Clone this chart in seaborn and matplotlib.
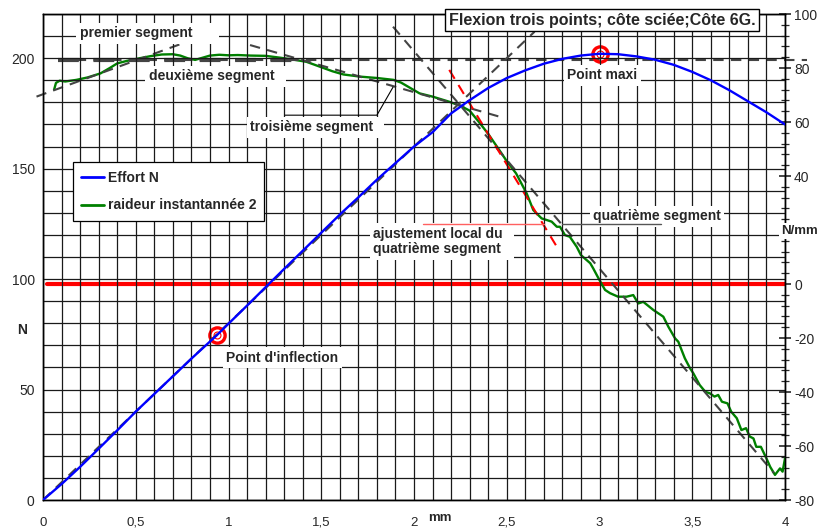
import numpy as np
import pandas as pd
import matplotlib
matplotlib.use("Agg")
import matplotlib.pyplot as plt
import seaborn as sns
from matplotlib.ticker import MultipleLocator, FixedLocator

# Effort N (left axis)
effort_x = [0, 0.1, 0.2, 0.3, 0.4, 0.5, 0.6, 0.7, 0.8, 0.936, 1.0, 1.1, 1.22, 1.3, 1.4, 1.5,
            1.61, 1.7, 1.8, 1.9, 2.0, 2.1, 2.2, 2.3, 2.4, 2.5, 2.6, 2.7, 2.8, 2.9, 3.0,
            3.1, 3.2, 3.3, 3.4, 3.5, 3.6, 3.7, 3.8, 3.9, 4.0]
effort_n = [0, 7.2, 15.0, 23.2, 31.5, 40.0, 48.0, 56.0, 64.0, 74.5, 79.8, 88.0, 98.0, 104.6, 112.8, 121.0,
            130.0, 137.0, 145.0, 152.5, 160.0, 166.5, 175.0, 181.0, 186.5, 191.0, 194.5, 197.5, 199.7, 201.2, 202.0,
            201.8, 200.8, 199.3, 197.0, 193.8, 190.0, 185.5, 180.5, 175.5, 170.0]

# raideur instantannée 2 (right axis, N/mm)
raid_x = [0.06, 0.07, 0.09, 0.12, 0.18, 0.24, 0.31, 0.36, 0.40, 0.45, 0.52, 0.58, 0.64, 0.70, 0.74,
          0.78, 0.82, 0.86, 0.90, 0.95, 1.00, 1.05, 1.12, 1.20, 1.28, 1.34, 1.42, 1.48, 1.56, 1.62,
          1.71, 1.80, 1.89, 1.93, 1.97, 2.03, 2.10, 2.19, 2.25, 2.30, 2.35, 2.40, 2.46, 2.50, 2.55,
          2.607, 2.643, 2.66, 2.688, 2.715, 2.742, 2.77, 2.787, 2.814, 2.84, 2.877, 2.90, 2.95, 2.966,
          2.99, 3.01, 3.03, 3.057, 3.10, 3.146, 3.182, 3.209, 3.236, 3.29, 3.344, 3.371, 3.407, 3.425,
          3.46, 3.488, 3.506, 3.54, 3.57, 3.595, 3.62, 3.64, 3.66, 3.69, 3.71, 3.74, 3.765, 3.79,
          3.81, 3.83, 3.845, 3.87, 3.90, 3.92, 3.946, 3.973, 3.987, 4.0]
raid_v = [72.0, 74.5, 75.3, 75.0, 75.6, 76.5, 78.0, 80.0, 81.7, 82.6, 83.6, 84.4, 85.0, 85.1, 84.6,
          83.6, 83.0, 83.8, 84.6, 84.9, 84.7, 84.8, 84.6, 84.5, 83.8, 83.2, 82.3, 80.8, 78.8, 77.6,
          76.8, 76.3, 75.6, 74.6, 73.0, 70.6, 69.4, 67.5, 66.0, 64.2, 60.0, 55.6, 49.6, 45.5, 41.0,
          33.6, 27.4, 26.2, 24.3, 23.7, 23.1, 21.2, 21.2, 18.1, 17.5, 13.8, 10.7, 7.7, 5.8,
          2.7, 0.2, -2.2, -3.4, -4.7, -4.7, -4.1, -7.2, -6.6, -9.6, -12.1, -15.8, -20.1, -21.4,
          -27.5, -31.2, -33.1, -37.4, -39.9, -40.5, -41.7, -41.1, -43.6, -44.2, -47.3, -49.7, -54.1, -53.4,
          -56.5, -57.2, -60.3, -60.3, -64.6, -67.7, -70.7, -68.3, -69.5, -64.6]

# fitted segments (right axis) and tangent (left axis)
seg1_x, seg1_v = [-0.035, 0.775], [69.4, 89.7]
seg2_x, seg2_v = [0.08, 4.12], [83.0, 83.0]
seg3_x, seg3_v = [1.116, 2.49], [88.5, 61.4]
seg4_x, seg4_v = [1.887, 3.94], [95.3, -70.0]
local_x, local_v = [2.19, 2.77], [79.3, 13.8]
tangent_x, tangent_n = [0, 2.65], [0, 212]

inflect_pt = (0.936, 74.5)
max_pt = (3.0, 202.0)

x_ticks = [0, 0.5, 1, 1.5, 2, 2.5, 3, 3.5, 4]
x_labels = ["0", "0,5", "1", "1,5", "2", "2,5", "3", "3,5", "4"]
right_ticks = [-80, -60, -40, -20, 0, 20, 40, 60, 80, 100]
right_labels = ["-80", "-60", "-40", "-20", "0", "", "40", "60", "80", "100"]

sns.set_style("white")
plt.rcParams['font.family'] = ['Liberation Sans', 'DejaVu Sans']

fig = plt.figure(figsize=(8.18, 5.28), dpi=100)
ax = fig.add_axes([43 / 818, 28 / 528, 742 / 818, 486 / 528])
ax2 = ax.twinx()

ax.set_xlim(0, 4)
ax.set_ylim(0, 220)
ax2.set_ylim(-80, 100)

# grid
ax.xaxis.set_minor_locator(MultipleLocator(0.1))
ax.yaxis.set_minor_locator(MultipleLocator(10))
ax.grid(which='both', color='#1a1a1a', lw=0.9)
ax.set_axisbelow(True)

dash = (0, (5, 3.5))
gray = '#444444'

# tangent line on force
ax.plot(tangent_x, tangent_n, color=gray, lw=1.5, ls=dash, zorder=2)

df_eff = pd.DataFrame({'x': effort_x, 'y': effort_n})
sns.lineplot(data=df_eff, x='x', y='y', ax=ax, color='#0000ff', lw=1.7, zorder=3,
             label='Effort N', legend=False)

# red zero line (right axis)
ax2.plot([0.02, 4.0], [0, 0], color='#ff0000', lw=3, zorder=2)

# segments
ax2.plot(seg1_x, seg1_v, color=gray, lw=1.5, ls=dash, clip_on=False, zorder=4)
ax2.plot([0.08, 1.42], [83.0, 83.0], color=gray, lw=3, ls=dash, zorder=4)
ax2.plot(seg2_x, seg2_v, color=gray, lw=1.5, ls=dash, clip_on=False, zorder=4)
ax2.plot(seg3_x, seg3_v, color=gray, lw=1.5, ls=dash, zorder=4)
ax2.plot(seg4_x, seg4_v, color=gray, lw=1.5, ls=dash, zorder=4)

df_raid = pd.DataFrame({'x': raid_x, 'y': raid_v})
sns.lineplot(data=df_raid, x='x', y='y', ax=ax2, color='#008000', lw=1.7, zorder=3,
             label='raideur instantannée 2', legend=False)
ax2.plot(local_x, local_v, color='#ff0000', lw=1.5, ls=dash, zorder=5)

# markers
def to_right(n):
    return n * 180 / 220 - 80

for px, pn in [inflect_pt, max_pt]:
    ax2.plot(px, to_right(pn), 'o', ms=11, mfc='none', mec='#ff0000', mew=2.4, zorder=6)
    ax2.plot(px, to_right(pn), 'o', ms=5, mfc='none', mec='#ff0000', mew=0.8, zorder=6)

# ticks
ax.set_xticks(x_ticks)
ax.set_xticklabels(x_labels)
ax.set_yticks([0, 50, 100, 150, 200])
ax.tick_params(axis='x', which='both', length=0, labelsize=9.5, pad=12)
ax.tick_params(axis='y', which='both', length=0, labelsize=10, pad=6)
ax2.yaxis.set_major_locator(FixedLocator(right_ticks))
ax2.set_yticklabels(right_labels)
ax2.yaxis.set_minor_locator(MultipleLocator(4))
ax2.tick_params(axis='y', which='major', direction='inout', length=9, width=1.2, labelsize=10, pad=2)
ax2.tick_params(axis='y', which='minor', direction='inout', length=6, width=0.9)
ax.set_xlabel('')
ax.set_ylabel('')
ax2.set_ylabel('')

for a in (ax, ax2):
    for s in a.spines.values():
        s.set_color('black')
        s.set_linewidth(1)

# axis labels
fig.text(440 / 818, 1 - 518 / 528, 'mm', fontsize=9.5, fontweight='bold', ha='center', va='center')
fig.text(22 / 818, 1 - 330 / 528, 'N', fontsize=10, fontweight='bold', ha='center', va='center')
fig.text(781 / 818, 1 - 231 / 528, 'N/mm', fontsize=9.5, fontweight='bold', ha='left', va='center',
         bbox=dict(boxstyle='square,pad=0.15', fc='white', ec='none'), zorder=10)

# annotations
box = dict(boxstyle='square,pad=0.25', fc='white', ec='none')
tk = dict(fontsize=10, fontweight='bold', ha='left', va='center', bbox=box, zorder=7)
ax.text(0.199, 211.3, 'premier segment      ', **tk)
ax.text(0.57, 191.9, 'deuxième segment  ', **tk)
ax.text(1.116, 168.8, 'troisième segment  ', **tk)
ax.text(2.825, 192.3, 'Point maxi', **tk)
ax.text(0.987, 64.3, 'Point d\'inflection', **tk)
ax.text(1.779, 117.0, 'ajustement local du  \nquatrième segment', linespacing=1.15, **tk)
ax.text(2.965, 128.5, 'quatrième segment', **tk)

ax.plot([1.305, 1.80, 1.887], [174.2, 174.2, 186.9], color='black', lw=0.8, zorder=7)
ax.plot([2.05, 2.70], [124.9, 124.9], color='#ff6060', lw=1, zorder=7)
ax.plot([2.80, 3.33], [124.9, 124.9], color='#555555', lw=1, zorder=7)
ax.set_zorder(ax2.get_zorder() + 1)
ax.patch.set_visible(False)

# legend
h1 = plt.Line2D([], [], color='#0000ff', lw=2)
h2 = plt.Line2D([], [], color='#008000', lw=2)
leg = ax.legend([h1, h2], ['Effort N', 'raideur instantannée 2'], loc='upper left',
                bbox_to_anchor=(0.0404, 0.695), borderaxespad=0, fancybox=False, framealpha=1,
                edgecolor='black', handlelength=1.6, handletextpad=0.3,
                labelspacing=1.0, borderpad=0.6, prop={'weight': 'bold', 'size': 10})
leg.get_frame().set_linewidth(0.9)

fig.text(602 / 818, 1 - 20 / 528, 'Flexion trois points; côte sciée;Côte 6G.', fontsize=11.5,
         fontweight='bold', ha='center', va='center',
         bbox=dict(boxstyle='square,pad=0.25', fc='white', ec='black', lw=1), zorder=10)

fig.savefig('out.png', dpi=100)
